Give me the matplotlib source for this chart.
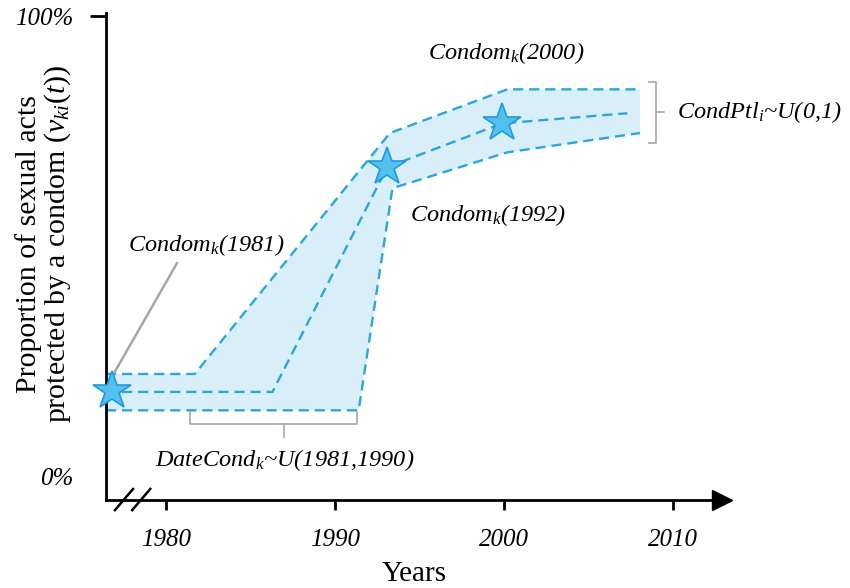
import numpy as np
import matplotlib
matplotlib.use('Agg')
import matplotlib.pyplot as plt

plt.rcParams['font.family'] = ['Liberation Serif', 'DejaVu Serif']
plt.rcParams['mathtext.fontset'] = 'custom'
plt.rcParams['mathtext.rm'] = 'Liberation Serif'
plt.rcParams['mathtext.it'] = 'Liberation Serif:italic'

# envelope of condom use over time (percent of acts)
years_upper = [1976.45, 1981.7, 1993.25, 2000.2, 2008.05]
upper = [22.2, 22.2, 74.6, 84.1, 84.1]
years_mid = [1976.45, 1986.3, 1993.1, 1999.9, 2007.3]
mid = [18.3, 18.3, 67.2, 76.7, 78.9]
years_lower = [1976.45, 1991.4, 1993.4, 2000.2, 2008.05]
lower = [14.3, 14.3, 62.6, 70.4, 74.6]

star_years = [1976.8, 1993.1, 1999.9]
star_vals = [18.5, 67.2, 76.7]

xticks = [1980, 1990, 2000, 2010]
yticks = [0, 100]
ytick_labels = ['0%', '100%']

line_col = '#29a6dc'
fill_col = '#d8effa'
gray = '#a6a6a6'

fig = plt.figure(figsize=(8.5, 5.88), dpi=100)
ax = fig.add_axes([106/850, 88/588, 616/850, 487/588])
ax.set_xlim(1976.45, 2012.9)
ax.set_ylim(-5.2, 100.7)

ax.fill(np.concatenate([years_upper, years_lower[::-1]]),
        np.concatenate([upper, lower[::-1]]), color=fill_col, lw=0, zorder=1)
for xs, ys in [(years_upper, upper), (years_mid, mid), (years_lower, lower)]:
    ax.plot(xs, ys, color=line_col, lw=1.7, dashes=(4.3, 2.5), zorder=2)

# pointer to the first star
ax.plot([1976.86, 1980.65], [21.96, 46.3], color=gray, lw=1.8, zorder=2)

ax.plot(star_years, star_vals, ls='none', marker='*', ms=29,
        mfc='#52c1f0', mec='#1e9bd7', mew=1.2, zorder=5, clip_on=False)

# brackets
ax.plot([1981.42, 1981.42, 1991.3, 1991.3], [13.9, 11.3, 11.3, 13.9],
        color=gray, lw=1.2, zorder=2)
ax.plot([1987.0, 1987.0], [11.3, 8.5], color=gray, lw=1.2, zorder=2)
ax.plot([2008.6, 2008.99, 2008.99, 2008.6], [85.7, 85.7, 72.4, 72.4],
        color=gray, lw=1.2, zorder=2)
ax.plot([2008.99, 2009.45], [79.1, 79.1], color=gray, lw=1.2, zorder=2)

tsz = 17.5
kw = dict(fontsize=tsz, fontstyle='italic', va='center')
ax.text(1982.37, 50.2, 'Condom$_k$(1981)', ha='center', **kw)
ax.text(2000.12, 92.0, 'Condom$_k$(2000)', ha='center', **kw)
ax.text(1999.05, 56.7, 'Condom$_k$(1992)', ha='center', **kw)
ax.text(2010.24, 79.1, 'CondPtl$_i$~U(0,1)', ha='left', **kw)
ax.text(1987.04, 3.5, 'DateCond$_k$~U(1981,1990)', ha='center', **kw)

# axes styling
for s in ['top', 'right']:
    ax.spines[s].set_visible(False)
ax.spines['left'].set_linewidth(2)
ax.spines['bottom'].set_linewidth(2)
ax.plot(1, 0, '>k', ms=14, transform=ax.transAxes, clip_on=False)

# axis break marks
for x0 in [1976.98, 1978.0]:
    ax.plot([x0, x0 + 1.07], [-7.4, -2.8], color='k', lw=1.8, clip_on=False)

ax.set_xticks(xticks)
ax.set_xticklabels([str(x) for x in xticks], fontsize=18, fontstyle='italic')
ax.tick_params(axis='x', direction='out', length=7, width=2, pad=14)
ax.set_yticks(yticks)
ax.set_yticklabels(ytick_labels, fontsize=18, fontstyle='italic')
ax.tick_params(axis='y', direction='out', length=11.5, width=2, pad=12)
ax.yaxis.get_major_ticks()[0].tick1line.set_visible(False)

ax.set_xlabel('Years', fontsize=21, labelpad=7)
fig.text(44/850, 1 - 244/588,
         'Proportion of sexual acts\nprotected by a condom ' + r'$(v_{ki}(t))$',
         rotation=90, ha='center', va='center', multialignment='center',
         fontsize=21.5, linespacing=1.05)

fig.savefig('out.png', dpi=100)
